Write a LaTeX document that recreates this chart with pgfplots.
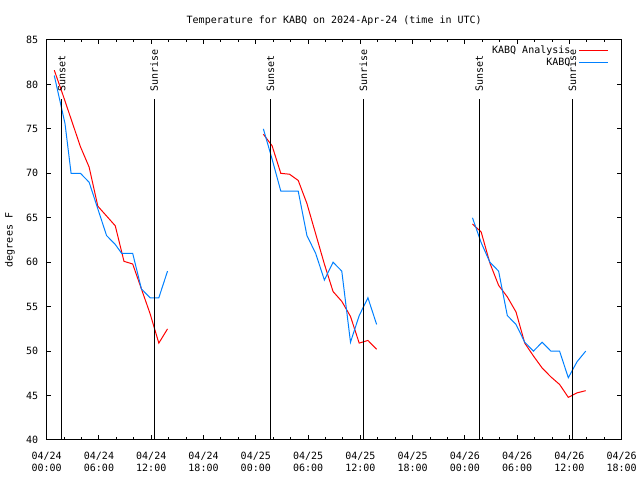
\documentclass[border=0pt]{standalone}
\usepackage{fontspec}
\setmainfont{DejaVu Sans Mono}
\usepackage{pgfplots}
\pgfplotsset{compat=1.18}
\definecolor{kred}{RGB}{255,0,0}
\definecolor{kblue}{RGB}{0,128,255}
\begin{document}
\begin{tikzpicture}[x=1bp,y=1bp,font=\fontsize{10bp}{11.7bp}\selectfont]
\path[use as bounding box] (0,0) rectangle (640,480);
\begin{axis}[at={(46.7bp,40bp)}, anchor=south west, scale only axis,
  width=575bp, height=400bp,
  xmin=0, xmax=66, ymin=40, ymax=85,
  xtick={0,6,...,66},
  xticklabels={{04/24\\00:00},{04/24\\06:00},{04/24\\12:00},{04/24\\18:00},
               {04/25\\00:00},{04/25\\06:00},{04/25\\12:00},{04/25\\18:00},
               {04/26\\00:00},{04/26\\06:00},{04/26\\12:00},{04/26\\18:00}},
  minor x tick num=2,
  ytick={40,45,...,85},
  tick align=inside,
  major tick length=4.5bp, minor tick length=2.5bp,
  every tick/.style={black, line width=1bp},
  axis line style={line width=1bp},
  xticklabel style={align=center, yshift=-9bp},
  yticklabel style={xshift=-5bp},
  /pgf/number format/assume math mode=true,
  title={Temperature for KABQ on 2024-Apr-24 (time in UTC)},
  title style={at={(0.5,1)}, anchor=center, yshift=13bp, inner sep=0pt},
  ylabel={degrees F},
  ylabel style={at={(axis description cs:-0.0638,0.5)}, anchor=center, inner sep=0pt},
  unbounded coords=jump,
  legend style={draw=none, fill=none, at={(1,1)}, anchor=north east,
    xshift=-10bp, yshift=-2bp, row sep=0pt, nodes={inner sep=1.5bp},
    /tikz/every odd column/.append style={column sep=7bp}},
  legend cell align=right,
  legend plot pos=right,
  legend image code/.code={\draw[#1] (0bp,0bp) -- (28.6bp,0bp);},
]
\addplot[kred, line width=1bp] coordinates {
 (0.87,81.6) (1.87,78.8) (2.87,75.9) (3.87,73.0) (4.87,70.7) (5.87,66.3)
 (6.87,65.2) (7.87,64.1) (8.87,60.1) (9.87,59.8) (10.87,57.0) (11.87,54.2)
 (12.87,50.9) (13.87,52.5)
 (20,nan)
 (24.87,74.4) (25.87,73.1) (26.87,70.0) (27.87,69.9) (28.87,69.2) (29.87,66.6)
 (30.87,63.2) (31.87,59.8) (32.87,56.7) (33.87,55.6) (34.87,53.9) (35.87,50.9)
 (36.87,51.2) (37.87,50.2)
 (44,nan)
 (48.87,64.3) (49.87,63.4) (50.87,59.9) (51.87,57.4) (52.87,56.1) (53.87,54.4)
 (54.87,50.9) (55.87,49.45) (56.87,48.1) (57.87,47.1) (58.87,46.25) (59.87,44.8)
 (60.87,45.3) (61.87,45.55)
};
\addlegendentry{KABQ Analysis}
\addplot[kblue, line width=1bp] coordinates {
 (0.87,81) (2.1,75.6) (2.8,70) (3.87,70) (4.87,69) (5.87,66) (6.87,63)
 (7.87,62) (8.6,61) (9.87,61) (10.87,57) (11.87,56) (12.87,56) (13.87,59)
 (20,nan)
 (24.87,75) (25.87,71.6) (26.87,68) (27.87,68) (28.87,68) (29.87,63)
 (30.87,61) (31.87,58) (32.87,60) (33.87,59) (34.87,51) (35.87,54)
 (36.87,56) (37.87,53)
 (44,nan)
 (48.87,65) (49.87,62.2) (50.87,60) (51.87,59) (52.87,54) (53.87,53)
 (54.87,51) (55.87,50) (56.87,51) (57.87,50) (58.87,50) (59.87,47)
 (60.87,48.8) (61.87,50)
};
\addlegendentry{KABQ}
\addplot[black, line width=1bp, forget plot] coordinates {(1.72,40) (1.72,78.4)};
\addplot[black, line width=1bp, forget plot] coordinates {(12.33,40) (12.33,78.4)};
\addplot[black, line width=1bp, forget plot] coordinates {(25.68,40) (25.68,78.4)};
\addplot[black, line width=1bp, forget plot] coordinates {(36.34,40) (36.34,78.4)};
\addplot[black, line width=1bp, forget plot] coordinates {(49.66,40) (49.66,78.4)};
\addplot[black, line width=1bp, forget plot] coordinates {(60.33,40) (60.33,78.4)};
\node[rotate=90, anchor=west, inner sep=0pt] at (axis cs:1.72,79.15) {Sunset};
\node[rotate=90, anchor=west, inner sep=0pt] at (axis cs:12.33,79.15) {Sunrise};
\node[rotate=90, anchor=west, inner sep=0pt] at (axis cs:25.68,79.15) {Sunset};
\node[rotate=90, anchor=west, inner sep=0pt] at (axis cs:36.34,79.15) {Sunrise};
\node[rotate=90, anchor=west, inner sep=0pt] at (axis cs:49.66,79.15) {Sunset};
\node[rotate=90, anchor=west, inner sep=0pt] at (axis cs:60.33,79.15) {Sunrise};
\end{axis}
\end{tikzpicture}
\end{document}
